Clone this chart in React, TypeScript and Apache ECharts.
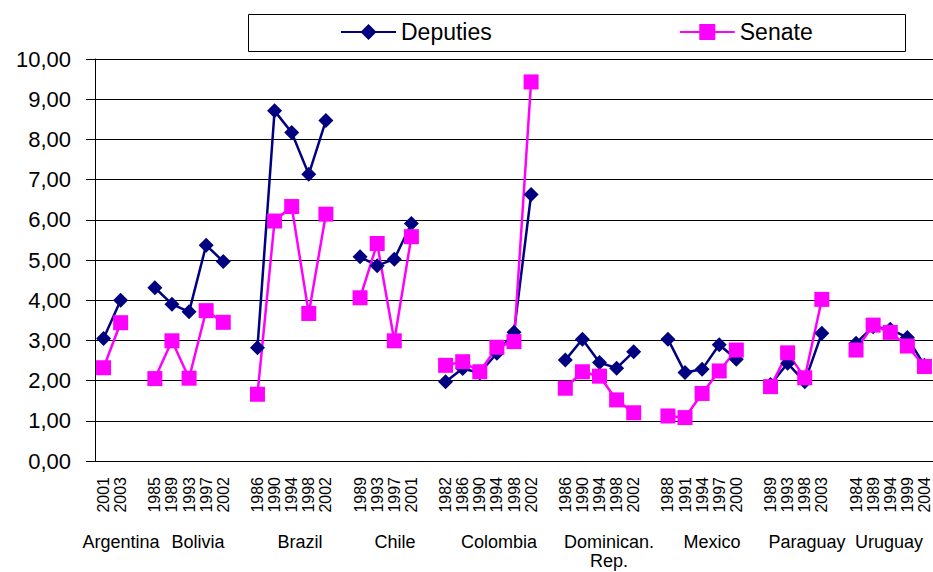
import React, { useEffect, useRef } from "react";
import * as echarts from "echarts";

const countries = ["Argentina", "Bolivia", "Brazil", "Chile", "Colombia", "Dominican.\nRep.", "Mexico", "Paraguay", "Uruguay"];
const years = [
  ["2001", "2003"],
  ["1985", "1989", "1993", "1997", "2002"],
  ["1986", "1990", "1994", "1998", "2002"],
  ["1989", "1993", "1997", "2001"],
  ["1982", "1986", "1990", "1994", "1998", "2002"],
  ["1986", "1990", "1994", "1998", "2002"],
  ["1988", "1991", "1994", "1997", "2000"],
  ["1989", "1993", "1998", "2003"],
  ["1984", "1989", "1994", "1999", "2004"],
];
const deputies = [
  [3.05, 4.0],
  [4.31, 3.9, 3.71, 5.37, 4.96],
  [2.82, 8.71, 8.17, 7.13, 8.47],
  [5.08, 4.86, 5.02, 5.91],
  [1.97, 2.3, 2.19, 2.68, 3.2, 6.63],
  [2.51, 3.03, 2.45, 2.31, 2.72],
  [3.03, 2.2, 2.28, 2.89, 2.53],
  [1.9, 2.43, 1.97, 3.18],
  [2.93, 3.34, 3.28, 3.07, 2.38],
];
const senate = [
  [2.32, 3.44],
  [2.05, 2.99, 2.06, 3.74, 3.45],
  [1.66, 5.97, 6.33, 3.67, 6.14],
  [4.06, 5.41, 2.99, 5.58],
  [2.38, 2.47, 2.22, 2.83, 2.97, 9.43],
  [1.81, 2.22, 2.11, 1.52, 1.2],
  [1.12, 1.08, 1.68, 2.24, 2.76],
  [1.85, 2.69, 2.07, 4.02],
  [2.76, 3.38, 3.2, 2.86, 2.35],
];
const yTicks = { min: 0, max: 10, interval: 1 };

// layout only: horizontal centre of each country label
const countryLabelX = [121, 198, 300, 395, 499, 609, 712, 807, 889];

function buildSeries() {
  const cats: string[] = [];
  const dep: (number | null)[] = [];
  const sen: (number | null)[] = [];
  years.forEach((ys, i) => {
    if (i > 0) {
      cats.push("");
      dep.push(null);
      sen.push(null);
    }
    ys.forEach((y, j) => {
      cats.push(y);
      dep.push(deputies[i][j]);
      sen.push(senate[i][j]);
    });
  });
  return { cats, dep, sen };
}

export default function App() {
  const ref = useRef<HTMLDivElement>(null);
  useEffect(() => {
    if (!ref.current) return;
    const chart = echarts.init(ref.current, null, { renderer: "svg" });
    const { cats, dep, sen } = buildSeries();
    const font = '"Liberation Sans", Arial, sans-serif';
    chart.setOption({
      animation: false,
      textStyle: { fontFamily: font, color: "#000" },
      grid: { left: 95, top: 59, width: 838, height: 402, containLabel: false },
      legend: {
        left: 340,
        top: 19,
        padding: 0,
        itemWidth: 55,
        itemHeight: 20,
        itemGap: 187,
        textStyle: { fontSize: 23, color: "#000", fontFamily: font, lineHeight: 26 },
        data: ["Deputies", "Senate"],
      },
      graphic: [
        {
          type: "rect",
          z: 0,
          shape: { x: 248.5, y: 14.5, width: 657, height: 37 },
          style: { fill: "#fff", stroke: "#000", lineWidth: 1 },
        },
        ...countries.map((c, i) => ({
          type: "text",
          x: countryLabelX[i],
          y: 532,
          style: {
            text: c,
            font: `18px ${font}`,
            fill: "#000",
            textAlign: "center",
            textVerticalAlign: "top",
            lineHeight: 19,
          },
        })),
      ],
      xAxis: {
        type: "category",
        data: cats,
        boundaryGap: true,
        axisLine: { show: true, lineStyle: { color: "#000", width: 1 } },
        axisTick: { show: false },
        axisLabel: { rotate: 90, interval: 0, fontSize: 16, margin: 16, color: "#000", fontFamily: font },
        splitLine: { show: false },
      },
      yAxis: {
        type: "value",
        min: yTicks.min,
        max: yTicks.max,
        interval: yTicks.interval,
        axisLine: { show: true, lineStyle: { color: "#000", width: 1 } },
        axisTick: { show: true, length: 9, lineStyle: { color: "#000" } },
        axisLabel: {
          fontSize: 22,
          margin: 24,
          color: "#000",
          fontFamily: font,
          formatter: (v: number) => v.toFixed(2).replace(".", ","),
        },
        splitLine: { show: true, lineStyle: { color: "#000", width: 1 } },
      },
      series: [
        {
          name: "Deputies",
          type: "line",
          data: dep,
          connectNulls: false,
          symbol: "diamond",
          symbolSize: 15,
          lineStyle: { color: "#000080", width: 2.5 },
          itemStyle: { color: "#000080" },
        },
        {
          name: "Senate",
          type: "line",
          data: sen,
          connectNulls: false,
          symbol: "rect",
          symbolSize: 15,
          lineStyle: { color: "#FF00FF", width: 2.5 },
          itemStyle: { color: "#FF00FF" },
        },
      ],
    });
    return () => chart.dispose();
  }, []);
  return <div ref={ref} style={{ position: "absolute", left: 0, top: 0, width: 933, height: 572 }} />;
}
